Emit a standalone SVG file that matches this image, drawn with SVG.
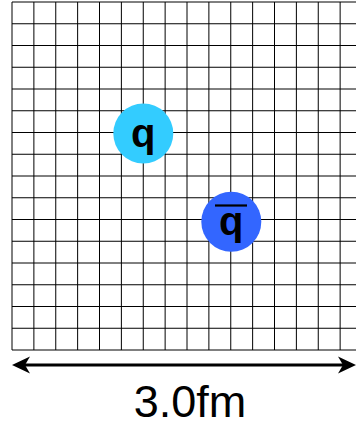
<svg xmlns="http://www.w3.org/2000/svg" width="356" height="427" viewBox="0 0 356 427">
<style>
.grid line{stroke:#000;stroke-width:1}
.lbl{font-family:"Liberation Sans",Arial,Helvetica,sans-serif;font-weight:bold;font-size:40px;fill:#000;text-anchor:middle}
.cap{font-family:"Liberation Sans",Arial,Helvetica,sans-serif;font-size:45px;fill:#000;text-anchor:middle}
</style>
<defs>
<marker id="head" markerUnits="userSpaceOnUse" markerWidth="20" markerHeight="20" refX="0" refY="0" orient="auto-start-reverse" overflow="visible">
<path d="M13,0 L-5,-8.5 L0,0 L-5,8.5 Z" fill="#000"/>
</marker>
</defs>
<rect width="356" height="427" fill="#fff"/>
<g id="grid" class="grid">
<line x1="12" y1="2" x2="12" y2="350"/>
<line x1="33.875" y1="2" x2="33.875" y2="350"/>
<line x1="55.75" y1="2" x2="55.75" y2="350"/>
<line x1="77.625" y1="2" x2="77.625" y2="350"/>
<line x1="99.5" y1="2" x2="99.5" y2="350"/>
<line x1="121.375" y1="2" x2="121.375" y2="350"/>
<line x1="143.25" y1="2" x2="143.25" y2="350"/>
<line x1="165.125" y1="2" x2="165.125" y2="350"/>
<line x1="187" y1="2" x2="187" y2="350"/>
<line x1="208.875" y1="2" x2="208.875" y2="350"/>
<line x1="230.75" y1="2" x2="230.75" y2="350"/>
<line x1="252.625" y1="2" x2="252.625" y2="350"/>
<line x1="274.5" y1="2" x2="274.5" y2="350"/>
<line x1="296.375" y1="2" x2="296.375" y2="350"/>
<line x1="318.25" y1="2" x2="318.25" y2="350"/>
<line x1="340.125" y1="2" x2="340.125" y2="350"/>
<line x1="362" y1="2" x2="362" y2="350"/>
<line x1="12" y1="2" x2="362" y2="2"/>
<line x1="12" y1="23.75" x2="362" y2="23.75"/>
<line x1="12" y1="45.5" x2="362" y2="45.5"/>
<line x1="12" y1="67.25" x2="362" y2="67.25"/>
<line x1="12" y1="89" x2="362" y2="89"/>
<line x1="12" y1="110.75" x2="362" y2="110.75"/>
<line x1="12" y1="132.5" x2="362" y2="132.5"/>
<line x1="12" y1="154.25" x2="362" y2="154.25"/>
<line x1="12" y1="176" x2="362" y2="176"/>
<line x1="12" y1="197.75" x2="362" y2="197.75"/>
<line x1="12" y1="219.5" x2="362" y2="219.5"/>
<line x1="12" y1="241.25" x2="362" y2="241.25"/>
<line x1="12" y1="263" x2="362" y2="263"/>
<line x1="12" y1="284.75" x2="362" y2="284.75"/>
<line x1="12" y1="306.5" x2="362" y2="306.5"/>
<line x1="12" y1="328.25" x2="362" y2="328.25"/>
<line x1="12" y1="350" x2="362" y2="350"/>
</g>
<g id="quark">
<circle cx="143.3" cy="133.5" r="30" fill="#33CCFF"/>
<text class="lbl" x="143.3" y="147">q</text>
</g>
<g id="antiquark">
<circle cx="231.3" cy="221.7" r="30" fill="#3366FF"/>
<text class="lbl" x="231.3" y="235">q</text>
<line x1="215" y1="205.5" x2="247" y2="205.5" stroke="#000" stroke-width="2.2"/>
</g>
<g id="connectors">
<line x1="25" y1="365" x2="343" y2="365" stroke="#000" stroke-width="3" marker-start="url(#head)" marker-end="url(#head)"/>
</g>
<g id="scale-label">
<text class="cap" x="190" y="417">3.0fm</text>
</g>
</svg>
